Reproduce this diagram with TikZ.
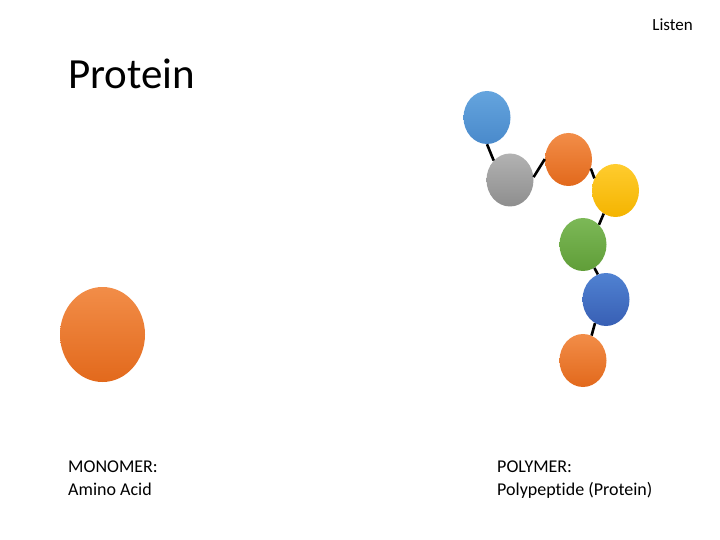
\documentclass[tikz,border=0pt]{standalone}
\usepackage{fontspec}
\setmainfont[Ligatures={NoCommon}]{Carlito}
\usetikzlibrary{shapes.geometric}
\definecolor{lblueT}{HTML}{64A4DE}\definecolor{lblueB}{HTML}{4A8ACB}
\definecolor{grayT}{HTML}{B2B2B2}\definecolor{grayB}{HTML}{8E8E8E}
\definecolor{oranT}{HTML}{F28D48}\definecolor{oranB}{HTML}{E2691C}
\definecolor{yellT}{HTML}{FFCC2E}\definecolor{yellB}{HTML}{F4B400}
\definecolor{greenT}{HTML}{7CB857}\definecolor{greenB}{HTML}{609E38}
\definecolor{dblueT}{HTML}{5082D2}\definecolor{dblueB}{HTML}{385FB4}
\tikzset{
  bead/.style={ellipse, inner sep=0, minimum width=47, minimum height=53},
  link/.style={line width=2.6, black},
  txt/.style={anchor=base west, inner sep=0, font=\fontsize{18}{21}\selectfont},
}
\begin{document}
\begin{tikzpicture}[x=1pt,y=-1pt]
\useasboundingbox (0,0) rectangle (720,540);
\node[anchor=base east, inner sep=0, font=\fontsize{17}{20}\selectfont] (listen) at (693,31) {Listen};
\node[anchor=base west, inner sep=0, font=\fontsize{43}{50}\selectfont] (title) at (68,89) {Protein};
\node[bead, top color=lblueT, bottom color=lblueB] (b1) at (487,117.5) {};
\node[bead, top color=grayT, bottom color=grayB] (b2) at (510,180) {};
\node[bead, top color=oranT, bottom color=oranB] (b3) at (568.5,159.5) {};
\node[bead, top color=yellT, bottom color=yellB] (b4) at (615.5,190.5) {};
\node[bead, top color=greenT, bottom color=greenB] (b5) at (583,244.5) {};
\node[bead, top color=dblueT, bottom color=dblueB] (b6) at (606,299.5) {};
\node[bead, top color=oranT, bottom color=oranB] (b7) at (583,360.5) {};
\draw[link] (b1.270) -- (b2.130);
\draw[link] (b2.7) -- (b3.179);
\draw[link] (b3.-22) -- (b4.150);
\draw[link] (b4.243) -- (b5.51);
\draw[link] (b5.296) -- (b6.108);
\draw[link] (b6.245) -- (b7.71);
\node[ellipse, inner sep=0, minimum width=85, minimum height=95, top color=oranT, bottom color=oranB] (mono) at (102.5,334.5) {};
\node[txt] (m1) at (68,472) {MONOMER:};
\node[txt] (m2) at (68,495) {Amino Acid};
\node[txt] (p1) at (497,472) {POLYMER:};
\node[txt] (p2) at (497,495) {Polypeptide (Protein)};
\end{tikzpicture}
\end{document}
